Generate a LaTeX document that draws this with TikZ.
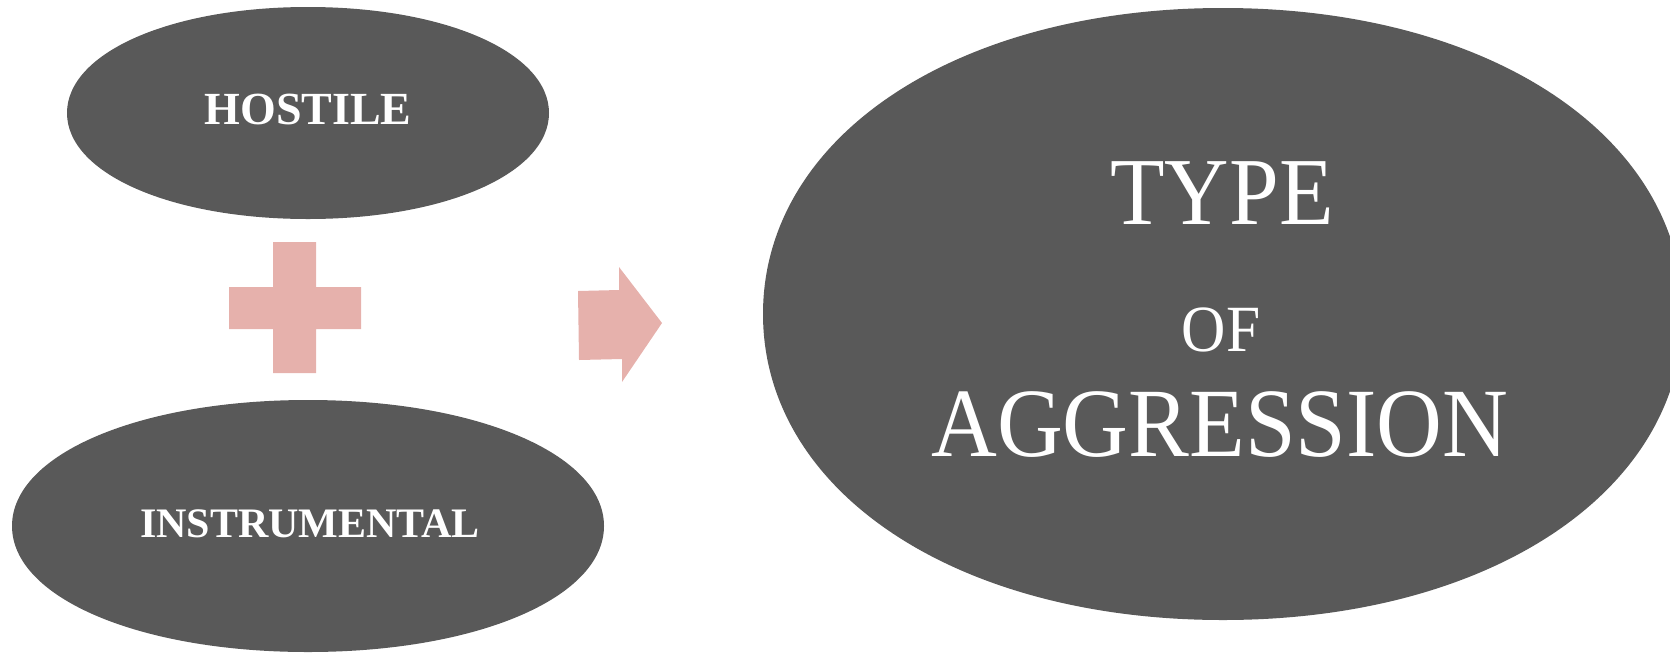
\documentclass[tikz,border=0pt]{standalone}
\usepackage{fontspec}
\setmainfont{Liberation Serif}
\newfontfamily\narrowserif[FakeStretch=0.93]{Liberation Serif}
\usetikzlibrary{shapes.geometric}
\definecolor{ovalgray}{HTML}{595959}
\definecolor{pinkfill}{HTML}{E6B1AC}
% cx cy rx ry k : a slightly fuller-than-elliptic oval
\newcommand\blobpath[5]{(#1+#3,#2) .. controls (#1+#3,#2-#5*#4) and (#1+#5*#3,#2-#4) .. (#1,#2-#4)
 .. controls (#1-#5*#3,#2-#4) and (#1-#3,#2-#5*#4) .. (#1-#3,#2)
 .. controls (#1-#3,#2+#5*#4) and (#1-#5*#3,#2+#4) .. (#1,#2+#4)
 .. controls (#1+#5*#3,#2+#4) and (#1+#3,#2+#5*#4) .. (#1+#3,#2) -- cycle}
\begin{document}
\begin{tikzpicture}[x=1pt,y=-1pt,
  ovalnode/.style={ellipse,draw=none,fill=none,inner sep=0pt},
  ovalfill/.style={fill=ovalgray,draw=none},
  smalllabel/.style={text=white,font=\fontsize{#1}{#1}\selectfont\bfseries,anchor=base,inner sep=0pt},
  biglabel/.style={text=white,font=\fontsize{#1}{#1}\selectfont\narrowserif,anchor=base,inner sep=0pt},
  pinkshape/.style={fill=pinkfill,draw=none}]
\useasboundingbox (0,0) rectangle (1670,654);
\begin{scope}
\clip (0,0) rectangle (1670,654);
\fill[ovalfill] \blobpath{1223}{314}{460}{306}{0.58};
\end{scope}
\fill[ovalfill] \blobpath{308}{113}{241}{106}{0.57};
\fill[ovalfill] \blobpath{308}{526}{296}{126}{0.57};
\node[ovalnode,minimum width=920pt,minimum height=612pt] (aggr) at (1223,314) {};
\node[ovalnode,minimum width=482pt,minimum height=212pt] (hostile) at (308,113) {};
\node[ovalnode,minimum width=592pt,minimum height=252pt] (instr) at (308,526) {};
\node[smalllabel=46] (hostiletext) at (308,124) {HOSTILE};
\node[smalllabel=42] (instrtext) at (310,537) {INSTRUMENTAL};
\node[biglabel=96] (type) at (1222,224) {TYPE};
\node[biglabel=66] (of) at (1221,351) {OF};
\node[biglabel=98] (aggression) at (1220,456) {AGGRESSION};
% plus sign
\fill[pinkshape] (273,242) -- (316,242) -- (316,287) -- (361,287) -- (361,329) -- (316,329) -- (316,373) -- (273,373) -- (273,329) -- (229,329) -- (229,287) -- (273,287) -- cycle;
% arrow
\fill[pinkshape] (578,291) -- (619,290) -- (619,267) -- (662,323) -- (622,382) -- (622,359) -- (579,360) -- cycle;
\end{tikzpicture}
\end{document}
